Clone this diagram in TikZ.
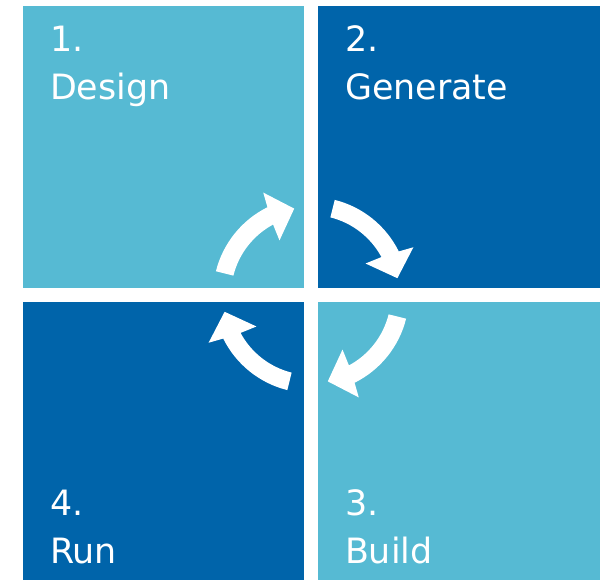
\documentclass[tikz,border=0pt]{standalone}
\usepackage{fontspec}
\setmainfont{DejaVu Sans}
\definecolor{lightb}{HTML}{56BAD3}
\definecolor{darkb}{HTML}{0064AA}
\begin{document}
\begin{tikzpicture}[x=1bp,y=1bp,
  sq/.style={draw=none, inner sep=0pt, outer sep=0pt, anchor=south west},
  lbl/.style={text=white, inner sep=0pt, outer sep=0pt, anchor=base west, font=\fontsize{35}{42}\selectfont},
  cyclearrow/.pic={\fill[white] (166:98) arc[start angle=166,end angle=116.4,radius=98bp] -- (115:113) -- (101:88) -- (120:63) -- (118.3:80) arc[start angle=118.3,end angle=166,radius=80bp] -- cycle;}]
\useasboundingbox (0,0) rectangle (602,580);
\fill[white] (0,0) rectangle (602,580);
\node[sq, fill=lightb, minimum width=281bp, minimum height=282bp] (design) at (23,292) {};
\node[sq, fill=darkb, minimum width=282bp, minimum height=282bp] (generate) at (318,292) {};
\node[sq, fill=darkb, minimum width=281bp, minimum height=278bp] (run) at (23,0) {};
\node[sq, fill=lightb, minimum width=282bp, minimum height=278bp] (build) at (318,0) {};
\node[lbl] (n1) at (50,528) {1.};
\node[lbl] (t1) at (50,480) {Design};
\node[lbl] (n2) at (345,528) {2.};
\node[lbl] (t2) at (345,480) {Generate};
\node[lbl] (n4) at (50,64) {4.};
\node[lbl] (t4) at (50,16) {Run};
\node[lbl] (n3) at (345,64) {3.};
\node[lbl] (t3) at (345,16) {Build};
\coordinate (c) at (311,285);
\pic[rotate=0] at (c) {cyclearrow};
\pic[rotate=-90] at (c) {cyclearrow};
\pic[rotate=-180] at (c) {cyclearrow};
\pic[rotate=-270] at (c) {cyclearrow};
\end{tikzpicture}
\end{document}
